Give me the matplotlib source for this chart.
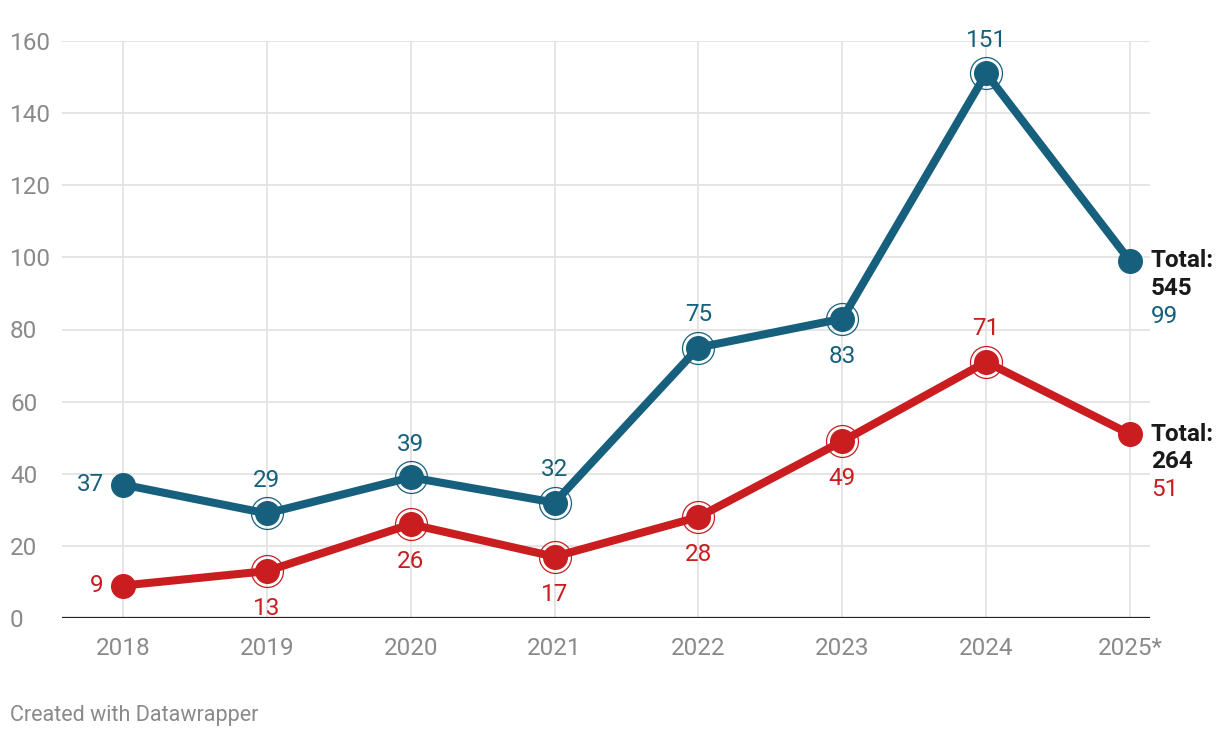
import numpy as np
from matplotlib import pyplot as plt

years = ['2018', '2019', '2020', '2021', '2022', '2023', '2024', '2025*']
blue_vals = [37, 29, 39, 32, 75, 83, 151, 99]
red_vals = [9, 13, 26, 17, 28, 49, 71, 51]
blue_pos = ['left', 'above', 'above', 'above', 'above', 'below', 'above', 'right']
red_pos = ['left', 'below', 'below', 'below', 'below', 'below', 'above', 'right']
blue_total = 545
red_total = 264
yticks = [0, 20, 40, 60, 80, 100, 120, 140, 160]

BLUE = '#17607d'
RED = '#c91d20'
GRID = '#e3e3e3'
TICK = '#8a8a8a'
FS = 17.5

plt.rcParams['font.family'] = ['Roboto', 'DejaVu Sans']

fig = plt.figure(figsize=(12.2, 7.38), dpi=100)
ax = fig.add_axes([62 / 1220, 120 / 738, 1088 / 1220, 577 / 738])

x = np.arange(len(years))
ax.set_xlim(-0.424, 7.139)
ax.set_ylim(0, 160)

for s in ax.spines.values():
    s.set_visible(False)
ax.axhline(0, color='#222222', lw=1.6, zorder=3)
for yv in yticks[1:]:
    ax.axhline(yv, color=GRID, lw=1.3, zorder=0)
for xv in x:
    ax.axvline(xv, color=GRID, lw=1.3, zorder=0)

ax.set_yticks(yticks)
ax.set_yticklabels([str(v) for v in yticks], fontsize=FS, color=TICK, ha='left')
ax.set_xticks(x)
ax.set_xticklabels(years, fontsize=FS, color=TICK)
ax.tick_params(axis='both', length=0)
ax.tick_params(axis='y', pad=37.5)
ax.tick_params(axis='x', pad=14)


def draw_series(vals, color, pos, total):
    ax.plot(x, vals, color=color, lw=5.8, solid_capstyle='round', zorder=4)
    ax.plot(x, vals, 'o', color=color, ms=17, zorder=5)
    # rings on middle points
    ax.plot(x[1:-1], vals[1:-1], 'o', ms=23, mfc='none', mec=color, mew=0.9, zorder=5)
    for xi, v, p in zip(x, vals, pos):
        if p == 'above':
            ax.annotate(str(v), (xi, v), xytext=(0, 24), textcoords='offset points',
                        ha='center', va='center', fontsize=FS, color=color, zorder=6)
        elif p == 'below':
            ax.annotate(str(v), (xi, v), xytext=(0, -27), textcoords='offset points',
                        ha='center', va='center', fontsize=FS, color=color, zorder=6)
        elif p == 'left':
            ax.annotate(str(v), (xi, v), xytext=(-14, 0), textcoords='offset points',
                        ha='right', va='center', fontsize=FS, color=color, zorder=6)
        else:
            ax.annotate('Total:', (xi, v), xytext=(15, 0), textcoords='offset points',
                        ha='left', va='center', fontsize=FS, fontweight='bold', color='#1a1a1a',
                        zorder=6, annotation_clip=False)
            ax.annotate(str(total), (xi, v), xytext=(15, -20), textcoords='offset points',
                        ha='left', va='center', fontsize=FS, fontweight='bold', color='#1a1a1a',
                        zorder=6, annotation_clip=False)
            ax.annotate(str(v), (xi, v), xytext=(15, -40), textcoords='offset points',
                        ha='left', va='center', fontsize=FS, color=color, zorder=6,
                        annotation_clip=False)


draw_series(blue_vals, BLUE, blue_pos, blue_total)
draw_series(red_vals, RED, red_pos, red_total)

fig.text(10 / 1220, 1 - 715 / 738, 'Created with Datawrapper', fontsize=15.5,
         color='#8a8a8a', ha='left', va='center')

fig.savefig('out.png', dpi=100)
